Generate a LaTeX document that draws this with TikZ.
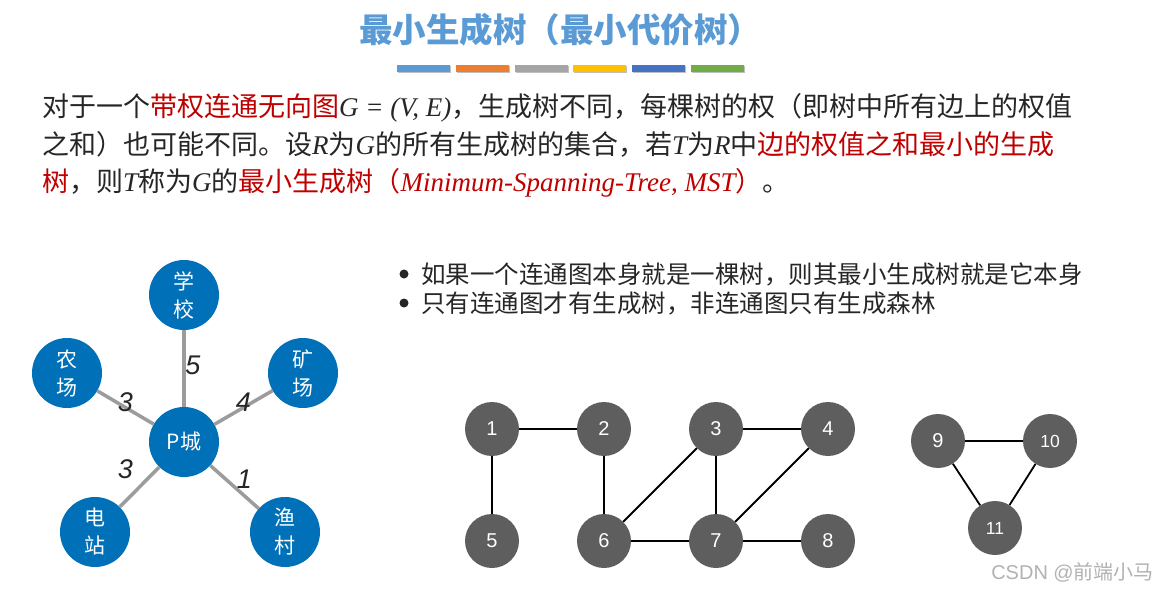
\documentclass[tikz,border=0pt]{standalone}
\usepackage{fontspec}
\usepackage{xcolor}
\setmainfont{Noto Sans CJK SC}
\setsansfont{Liberation Sans}
\newfontfamily\latfont{Liberation Serif}
\usetikzlibrary{positioning}

\definecolor{titleblue}{HTML}{5B9BD5}
\definecolor{hlred}{HTML}{C00000}
\definecolor{cityblue}{HTML}{0070B8}
\definecolor{vertgray}{HTML}{5E5E5E}
\definecolor{roadgray}{HTML}{9C9C9C}
\definecolor{barA}{HTML}{5B9BD5}
\definecolor{barB}{HTML}{ED7D31}
\definecolor{barC}{HTML}{A5A5A5}
\definecolor{barD}{HTML}{FFC000}
\definecolor{barE}{HTML}{4472C4}
\definecolor{barF}{HTML}{70AD47}

\newcommand{\hl}[1]{\textcolor{hlred}{#1}}
\newcommand{\mvar}[1]{{\latfont\itshape #1}}

\begin{document}
\begin{tikzpicture}[
    x=1pt, y=-1pt,
    headline/.style={
        font=\fontsize{33.5}{36}\selectfont\bfseries,
        text=titleblue,
        inner sep=0pt
    },
    para/.style={
        anchor=base west,
        inner sep=0pt,
        font=\fontsize{27}{32}\selectfont,
        text=black!85
    },
    point/.style={
        anchor=base west,
        inner sep=0pt,
        font=\fontsize{24.5}{30}\selectfont,
        text=black!85
    },
    dot/.style={
        circle,
        fill=black!85,
        minimum size=9pt,
        inner sep=0pt
    },
    city/.style={
        circle,
        fill=cityblue,
        text=white,
        minimum size=70pt,
        inner sep=0pt,
        align=center,
        font=\fontsize{21}{28}\selectfont
    },
    road/.style={
        draw=roadgray,
        line width=3.5pt
    },
    dist/.style={
        font=\sffamily\itshape\fontsize{27}{27}\selectfont,
        text=black!85,
        inner sep=0pt
    },
    vert/.style={
        circle,
        fill=vertgray,
        text=white,
        minimum size=54pt,
        inner sep=0pt,
        font=\sffamily\fontsize{20}{20}\selectfont
    },
    link/.style={
        draw=black,
        line width=1.8pt
    }
]

\useasboundingbox[fill=white] (0,0) rectangle (1160,591);

% Title and colour bars
\node[headline] (title) at (560,30) {最小生成树（最小代价树）};

\foreach \c [count=\i] in {barA,barB,barC,barD,barE,barF} {
    \fill[black!25] (397+58.8*\i-58.8+1,66.5) rectangle ++(53,7);
    \fill[\c] (397+58.8*\i-58.8,65) rectangle ++(53,7);
}

% Definition text
\node[para] (line1) at (42,117)
{对于一个\hl{带权连通无向图}\mvar{G = (V, E)}，生成树不同，每棵树的权（即树中所有边上的权值};
\node[para] (line2) at (42,155)
{之和）也可能不同。设\mvar{R}为\mvar{G}的所有生成树的集合，若\mvar{T}为\mvar{R}中\hl{边的权值之和最小的生成}};
\node[para] (line3) at (42,192)
{\hl{树}，则\mvar{T}称为\mvar{G}的\hl{最小生成树（\mvar{Minimum-Spanning-Tree, MST}）}。};

% Bullet points
\node[dot] (dot1) at (404,274) {};
\node[point] (point1) at (421,283.5) {如果一个连通图本身就是一棵树，则其最小生成树就是它本身};
\node[dot] (dot2) at (404,303) {};
\node[point] (point2) at (421,312.5) {只有连通图才有生成树，非连通图只有生成森林};

% Weighted star graph
\node[city] (school) at (184,295) {学\\校};
\node[city] (farm) at (67,373) {农\\场};
\node[city] (mine) at (303,373) {矿\\场};
\node[city] (pcity) at (184,442) {P城};
\node[city] (plant) at (95,532) {电\\站};
\node[city] (village) at (285,532) {渔\\村};

\draw[road] (pcity) -- node[dist, xshift=9pt, yshift=3pt] {5} (school);
\draw[road] (pcity) -- node[dist, yshift=5pt] {3} (farm);
\draw[road] (pcity) -- node[dist, yshift=5pt] {4} (mine);
\draw[road] (pcity) -- node[dist, xshift=-14pt, yshift=18pt] {3} (plant);
\draw[road] (pcity) -- node[dist, xshift=10pt, yshift=8pt] {1} (village);

% Connected graph
\node[vert] (v1) at (492,429) {1};
\node[vert] (v2) at (604,429) {2};
\node[vert] (v3) at (716,429) {3};
\node[vert] (v4) at (828,429) {4};
\node[vert] (v5) at (492,541) {5};
\node[vert] (v6) at (604,541) {6};
\node[vert] (v7) at (716,541) {7};
\node[vert] (v8) at (828,541) {8};

\draw[link] (v1) -- (v2);
\draw[link] (v1) -- (v5);
\draw[link] (v2) -- (v6);
\draw[link] (v3) -- (v4);
\draw[link] (v3) -- (v6);
\draw[link] (v3) -- (v7);
\draw[link] (v4) -- (v7);
\draw[link] (v6) -- (v7);
\draw[link] (v7) -- (v8);

% Separate triangle
\node[vert] (v9) at (938,441) {9};
\node[vert, font=\sffamily\fontsize{17.5}{17.5}\selectfont] (v10) at (1050,441) {10};
\node[vert, font=\sffamily\fontsize{17.5}{17.5}\selectfont] (v11) at (995,528) {11};

\draw[link] (v9) -- (v10);
\draw[link] (v9) -- (v11);
\draw[link] (v10) -- (v11);

% Watermark
\node[anchor=east, inner sep=0pt, text=black!30, font=\fontsize{20}{20}\selectfont] (mark) at (1154,572)
{{\sffamily CSDN @}前端小马};

\end{tikzpicture}
\end{document}
